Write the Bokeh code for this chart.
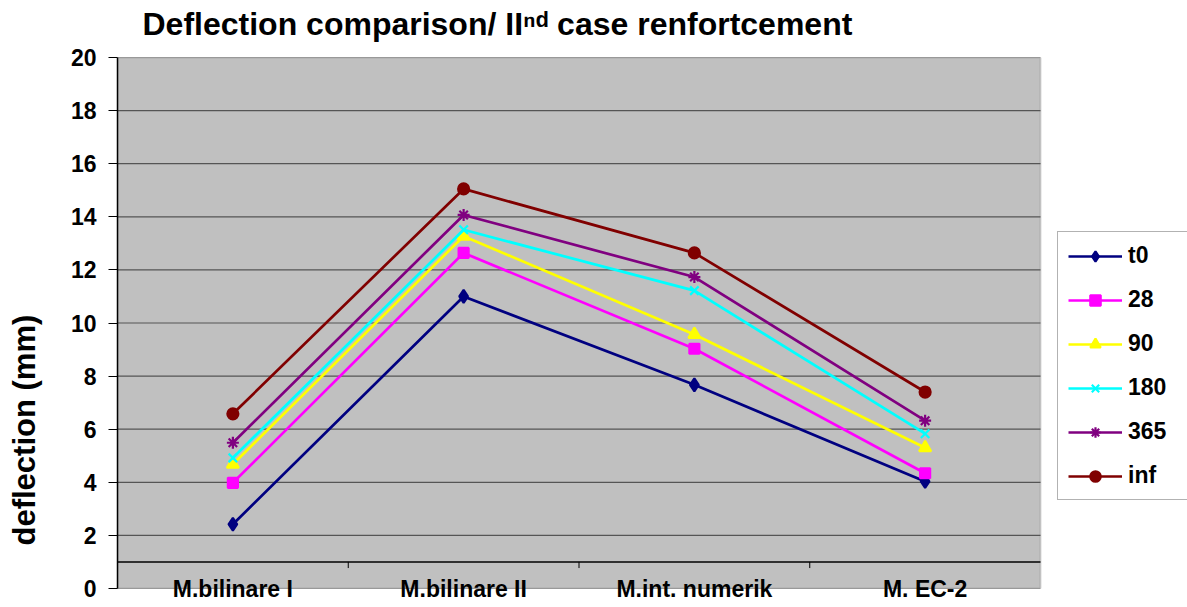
import math
from bokeh.plotting import figure
from bokeh.models import (Range1d, FixedTicker, Title, BoxAnnotation,
                          Legend, LegendItem)
from bokeh.embed import file_html
from bokeh.resources import INLINE

# ---------------- data ----------------
categories = ["M.bilinare I", "M.bilinare II", "M.int. numerik", "M. EC-2"]
series_names = ["t0", "28", "90", "180", "365", "inf"]
t0_values = [2.42, 11.00, 7.67, 4.03]
d28_values = [3.98, 12.64, 9.03, 4.34]
d90_values = [4.68, 13.27, 9.57, 5.30]
d180_values = [4.92, 13.51, 11.22, 5.83]
d365_values = [5.49, 14.07, 11.73, 6.32]
inf_values = [6.58, 15.05, 12.64, 7.40]
y_ticks = [0, 2, 4, 6, 8, 10, 12, 14, 16, 18, 20]
axis_cross = 1  # category axis crosses the value axis at 1

title_text = "Deflection comparison/  II\u207f\u1d48 case renfortcement"
y_label = "deflection (mm)"

all_values = [t0_values, d28_values, d90_values, d180_values, d365_values, inf_values]
colors = ["#000080", "#FF00FF", "#FFFF00", "#00FFFF", "#800080", "#800000"]
markers = ["diamond", "square", "triangle", "x", "asterisk", "circle"]
marker_sizes = [13, 10, 12, 12, 12, 11]

FONT = "Liberation Sans"

# ---------------- layout ----------------
W, H = 1187, 607
FRAME_LEFT, FRAME_TOP, PLOT_RIGHT, FRAME_BOTTOM = 117, 57, 1040, 588
n = len(categories)
positions = [i + 0.5 for i in range(n)]          # category centres
x_end = n * (W - FRAME_LEFT) / (PLOT_RIGHT - FRAME_LEFT)  # room for the legend
y_min, y_max = y_ticks[0], y_ticks[-1]

p = figure(width=W, height=H, output_backend="svg", toolbar_location=None,
           x_range=Range1d(0, x_end), y_range=Range1d(y_min, y_max))
p.min_border_left = FRAME_LEFT
p.min_border_right = 0
p.min_border_top = FRAME_TOP
p.min_border_bottom = H - FRAME_BOTTOM

p.background_fill_color = "white"
p.border_fill_color = "white"
p.outline_line_color = None
p.xgrid.grid_line_color = None
p.ygrid.grid_line_color = None

# plot area (grey) with its border
p.add_layout(BoxAnnotation(left=0, right=n, bottom=y_min, top=y_max,
                           fill_color="#C0C0C0", fill_alpha=1,
                           line_color="#808080", line_width=2, level="underlay"))
# horizontal grid lines across the plot area
p.segment(x0=[0] * len(y_ticks), y0=y_ticks, x1=[n] * len(y_ticks), y1=y_ticks,
          line_color="#555555", line_width=1.2)

# y axis
p.yaxis.ticker = FixedTicker(ticks=y_ticks)
p.yaxis.axis_line_color = "black"
p.yaxis.axis_line_width = 1.5
p.yaxis.major_tick_in = 0
p.yaxis.major_tick_out = 9
p.yaxis.major_tick_line_color = "black"
p.yaxis.minor_tick_line_color = None
p.yaxis.major_label_standoff = 12
p.yaxis.major_label_text_font = FONT
p.yaxis.major_label_text_font_style = "bold"
p.yaxis.major_label_text_font_size = "23px"
p.yaxis.major_label_text_color = "black"

# x axis: category names at the bottom of the plot area
p.xaxis.ticker = FixedTicker(ticks=positions)
p.xaxis.major_label_overrides = {pos: cat for pos, cat in zip(positions, categories)}
p.xaxis.axis_line_color = None
p.xaxis.major_tick_line_color = None
p.xaxis.minor_tick_line_color = None
p.xaxis.major_tick_out = 0
p.xaxis.minor_tick_out = 0
p.xaxis.major_label_standoff = -13
p.xaxis.major_label_text_font = FONT
p.xaxis.major_label_text_font_style = "bold"
p.xaxis.major_label_text_font_size = "23px"
p.xaxis.major_label_text_color = "black"

# category axis line at y = axis_cross, with boundary tick marks
p.segment(x0=[0], y0=[axis_cross], x1=[n], y1=[axis_cross],
          line_color="black", line_width=1.5)
boundaries = list(range(1, n))
p.segment(x0=boundaries, y0=[axis_cross] * len(boundaries),
          x1=boundaries, y1=[axis_cross - 0.23] * len(boundaries),
          line_color="black", line_width=1)

items = []
for name, vals, col, mk, ms in zip(series_names, all_values, colors,
                                   markers, marker_sizes):
    lr = p.line(positions, vals, line_color=col, line_width=2.7)
    sr = p.scatter(positions, vals, marker=mk, size=ms,
                   fill_color=col, line_color=col, line_width=2.2)
    items.append(LegendItem(label=name, renderers=[lr, sr]))

legend = Legend(items=items, location=(940, 88))
legend.padding = 10
legend.spacing = 17
legend.glyph_height = 26
legend.label_height = 26
legend.glyph_width = 54
legend.label_width = 52
legend.label_standoff = 6
legend.margin = 0
legend.border_line_color = "#666666"
legend.border_line_width = 1.5
legend.background_fill_color = "white"
legend.background_fill_alpha = 1
legend.label_text_font = FONT
legend.label_text_font_style = "bold"
legend.label_text_font_size = "23px"
legend.label_text_color = "black"
p.add_layout(legend, "center")

# chart title (spacer first, nearest the frame)
p.add_layout(Title(text=" ", standoff=0, text_font_size="12px"), "above")
p.add_layout(Title(text=title_text, align="left", offset=25, standoff=0,
                   vertical_align="bottom", text_font=FONT, text_font_style="bold",
                   text_font_size="32px", text_color="black"), "above")

# value axis title (spacer first, nearest the axis)
p.add_layout(Title(text=" ", standoff=0, text_font_size="20px"), "left")
p.add_layout(Title(text=y_label, align="left", offset=43, standoff=0,
                   vertical_align="top", text_font=FONT, text_font_style="bold",
                   text_font_size="31px", text_color="black"), "left")

open("out.html", "w").write(file_html(p, INLINE))
